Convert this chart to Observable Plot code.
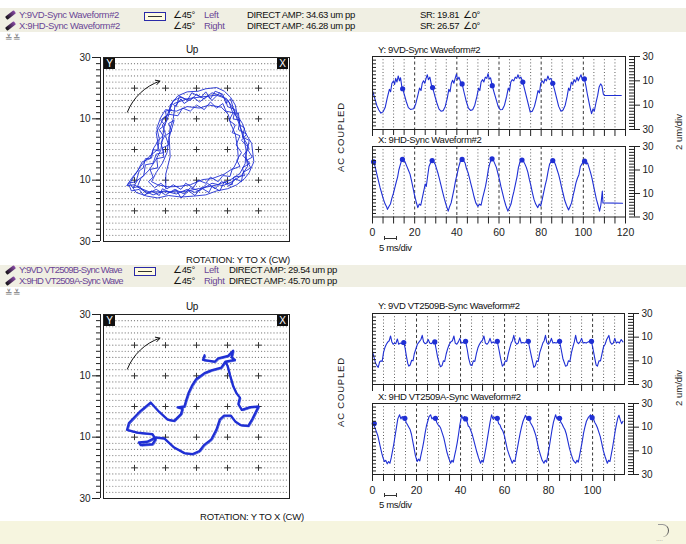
<!DOCTYPE html>
<html><head><meta charset="utf-8">
<script src="https://cdn.jsdelivr.net/npm/d3@7"></script>
<script src="https://cdn.jsdelivr.net/npm/@observablehq/plot@0.6"></script>
<style>
body{margin:0;background:#fff;font-family:"Liberation Sans",Arial,sans-serif;}
#root{position:relative;width:686px;height:544px;overflow:hidden;background:#fff;}
.a{position:absolute;white-space:nowrap;line-height:10px;font-size:9.5px;letter-spacing:-0.35px;color:#111;}
.band{position:absolute;left:0;width:686px;background:#f0efe3;}
.nm{color:#6a4596;}
.pur{color:#6a4596;}
.ico{position:absolute;width:11px;height:4px;background:linear-gradient(90deg,#111,#8a4aa8);transform:rotate(-38deg);border-radius:1px;}
.box{position:absolute;width:20px;height:7px;border:1px solid #2a2aa8;background:#fffbe0;}
.box:after{content:"";position:absolute;left:3px;right:3px;top:3px;height:1px;background:#333;}
.tag{position:absolute;width:11px;height:11px;background:#111;color:#fff;font-size:10px;line-height:11px;text-align:center;}
.rot{position:absolute;transform:translate(-50%,-50%) rotate(-90deg);white-space:nowrap;font-size:9.5px;color:#222;}
svg{position:absolute;overflow:visible;}
</style></head>
<body><div id="root"></div>
<script>
// ---------------- data ----------------
const headerTop = ["Y:9VD-Sync Waveform#2", "X:9HD-Sync Waveform#2"];
const headerBottom = ["Y:9VD VT2509B-Sync Wave", "X:9HD VT2509A-Sync Wave"];
const titlesTop = ["Y: 9VD-Sync Waveform#2", "X: 9HD-Sync Waveform#2"];
const titlesBottom = ["Y: 9VD VT2509B-Sync Waveform#2", "X: 9HD VT2509A-Sync Waveform#2"];
const ampTop = ["34.63", "46.28"];
const ampBottom = ["29.54", "45.70"];
const srTop = ["19.81", "26.57"];
const sides = ["Left", "Right"];
const orbitTicks = [-30, -10, 10, 30];
const waveTicks = [-30, -10, 10, 30];
const timeLabelsTop = [0, 20, 40, 60, 80, 100, 120];
const timeLabelsBottom = [0, 20, 40, 60, 80, 100];

// top orbit: several overlapping revolutions (x, y in um)
const topOrbit = [
 [-7.2,15.0],[-2.8,16.6],[2.1,17.2],[6.4,17.7],[9.7,16.6],[11.8,13.4],[13.5,9.0],[15.1,4.7],[16.0,-0.2],[15.7,-4.6],[14.0,-7.8],[10.8,-10.0],[6.4,-11.6],[1.0,-12.7],[-4.5,-13.8],[-9.9,-13.8],[-15.3,-13.8],[-19.1,-12.2],[-18.0,-9.5],[-15.3,-6.7],[-13.2,-3.5],[-11.5,-0.2],[-11.0,3.6],[-10.4,7.4],[-8.8,11.7],
 [-8.5,14.5],[-6,17.5],[-3,18.8],[0.5,19],[3,19.8],[6.5,20.2],[9,19],[11,17],[12.5,14.5],[13.2,11],[14.8,8.5],[16,5],[17.8,2],[18.2,-1.5],[18.5,-4],[17,-7.5],[15.5,-9.5],[13,-11.5],[10,-12.8],[6.5,-13.5],[3,-14.8],[-1,-15.2],[-5,-15.5],[-9,-15],[-12.5,-15.8],[-16,-15.2],[-19.5,-14],[-21.5,-11],[-20,-8.5],[-18,-5.5],[-15.5,-2.5],[-12.5,0],[-12,3.5],[-12.8,7],[-11.5,10.5],[-10,13],
 [-6.5,12.5],[-3,14],[1,13.5],[4,14.5],[8,13.8],[10.2,11.5],[11,8.5],[12.5,5],[13.2,1],[13.5,-3],[12,-6],[9,-8],[5,-9.5],[2,-9.8],[-2,-11.5],[-5.5,-12],[-9,-12.2],[-12.5,-11.5],[-14.5,-10.5],[-13,-7.5],[-11,-4.5],[-9.5,-1],[-9,3],[-8.5,7],[-7.5,10],
 [-7,14],[-5,16.5],[-4,15],[-1,17],[1,15.5],[3.5,17.5],[5,16],[7.5,18.5],[9.5,16],[10,14],[12.5,13],[11.8,10],[14,9.5],[13.5,6.5],[16.2,5],[14.5,3],[17,0.5],[15,-2],[17.2,-4.5],[14.8,-6],[15.5,-8.5],[12,-9],[11.5,-11.5],[8,-10.5],[6,-12.8],[3.5,-11],[1,-13.5],[-2,-12.5],[-4,-14.5],[-7,-13],[-10,-14.8],[-13,-13],[-16,-14.5],[-18.5,-12],[-20.5,-12.5],[-19,-10],[-17,-8.5],[-16.5,-5],[-14,-4.5],[-13,-1.5],[-10.5,-1],[-11.5,2],[-10,5],[-11,8],[-9.5,9.5],[-10,12.5],[-8,13],
 [-9,12],[-7.5,16],[-5,17],[-2,16],[0,18],[2.5,16.5],[5,18.5],[8,17.5],[10.5,15.5],[11.5,12.5],[13.5,10],[14.2,7],[15,4],[16.5,1.5],[16,-2],[16.5,-5.5],[14.5,-8.5],[11.5,-10.5],[8.5,-11.8],[5,-11],[2.5,-12.5],[-0.5,-14],[-3,-13],[-6.5,-14.5],[-10.5,-13.5],[-14,-14.8],[-17.5,-13.2],[-20,-11.5],[-22.5,-11.8],[-21,-9.5],[-19,-7],[-17.5,-4],[-15,-3],[-13.8,0.5],[-12.5,2.5],[-13,5.5],[-11.5,8.5],[-10.5,10.5],
 [-9.5,11],[-8,15],[-6.5,14],[-5.5,17.5],[-3,16],[-1.5,18.5],[1.5,17],[3,18.8],[4.5,16.5],[6,19],[8.5,18],[9.5,15],[11,16.5],[12,13],[12.8,11.5],[13.5,12],[14,8],[15.5,7],[14.8,4],[17,3],[16.5,0],[18,-2.5],[16.2,-3.5],[17.5,-6],[15,-7.5],[14.5,-10.5],[12.5,-9.5],[10.5,-12],[9,-10.5],[7.5,-13.5],[5,-12],[4,-14],[1.5,-12.5],[-0.5,-15],[-2.5,-13.5],[-5,-15.8],[-6.5,-13.2],[-8.5,-14],[-11,-12.8],[-12,-15],[-14.5,-13.5],[-17,-15],[-18.5,-13],[-21,-13.5],[-22,-11],[-19.5,-10.5],[-18.5,-7],[-17.2,-6],[-16.5,-3],[-14.5,-2.8],[-14,0],[-12,-0.5],[-12.8,2.5],[-10.8,4.5],[-12,6.5],[-10.2,8],[-11.5,9.5],[-9,11.5],
 [-6,11],[-4.5,13.5],[-2,12.5],[0,14.5],[2.5,13],[4.5,15.5],[6.5,13.5],[8.5,15],[9.5,12.5],[11.8,12],[10.5,9.5],[12.5,8],[11.5,5.5],[14,4.5],[12.8,1.5],[14.5,-1],[13,-3.5],[14,-5.5],[11.5,-6.5],[10.8,-8.8],[8.5,-8.5],[7,-10.5],[4.5,-9],[3,-11],[0.5,-10],[-1,-12.5],[-3.5,-11],[-5,-13],[-7.5,-11.5],[-9.5,-12.8],[-11.5,-11],[-13.5,-12.5],[-15.5,-10.5],[-14,-9],[-15,-6.5],[-12.5,-6],[-12.8,-3],[-10.5,-2.5],[-11,0.5],[-9,1.5],[-10,4.5],[-8,6],[-9,8.5],[-7.2,9.5],[-8.8,4],[-8.5,-2.4],[-9.9,-8],[-9.9,-12.7]
];

// bottom orbit (x, y in um)
const bottomOrbit = [
 [2.6,16.7],[2.1,15.2],[5.9,14.6],[7,15.7],[10.2,16.5],[11.8,18.2],[11.3,16],[12.4,15.2],[9.3,14.6],
 [8.0,12.7],[4.8,11.8],[2.6,10.9],[-0.1,8.9],[-1.5,6.7],[-2.5,4.6],[-3.4,1.8],[-3.9,0],[-6.1,-0.3],[-4.5,-0.7],[-5.0,-2.5],[-7.2,-4.7],[-9.3,-4.3],[-12.1,-1.7],[-14.8,1.3],[-18.0,-1.4],[-21.8,-5.4],[-22.4,-7.6],[-19.1,-8.5],[-14.2,-9.0],[-13.2,-10.7],[-14.2,-12.3],[-18.0,-12.6],[-18.6,-11.7],[-15.9,-11.5],[-13.2,-10.1],[-10.4,-10.4],[-7.2,-13.4],[-3.9,-15.2],[-1.2,-15.5],[1.0,-14.5],[2.4,-12.6],[4.8,-10.7],[6.4,-7.6],[7.5,-4.3],[8.9,-3.0],[11.1,-3.0],[12.6,-5.0],[14.3,-6.1],[16.7,-6.3],[18.0,-4.1],[20.0,0],[17.3,-0.2],[14.6,-1.1],[13.5,0.8],[14.0,2.9],[12.9,4.3],[11.8,6.7],[10.8,10.2],[10.0,13.3],[9.3,14.6]
];

// direction arrow on both orbits [x1, y1, x2, y2]
const rotationArrow = [[-22.3, 12.2, -11.8, 22.3]];

// waveforms: [time ms, amplitude um]
const topYWave = [[0,2],[1,-4],[2,-10],[3,-14],[4,-16.5],[5,-15.5],[6,-12],[7,-4],[8,3],[8.6,1],[9.2,8],[10,10],[10.5,7],[11,12],[11.6,9],[12.2,14],[12.8,10],[13.3,12.5],[14,4],[14.4,3],[15.2,-2],[16,-7],[17,-12],[18,-13.5],[19.5,-13],[20.5,-9],[21.5,-2],[22.3,4],[23,2],[23.6,8],[24.2,10],[24.8,8],[25.4,12],[26,15],[26.5,11],[27.2,13],[28,6],[28.6,4],[29.5,-2],[30.5,-8],[31.5,-13],[32.5,-15],[33.5,-14.5],[34.5,-11],[35.5,-4],[36.2,3],[36.8,1],[37.4,8],[38,10.5],[38.6,8],[39.2,12],[39.8,15.5],[40.4,11],[41,13],[41.8,9],[42.5,7.5],[43.5,0],[44.5,-7],[45.5,-12.5],[46.5,-14.3],[47.5,-13.8],[48.5,-10],[49.5,-3],[50.3,4],[50.9,2],[51.5,9],[52.2,11],[52.8,9],[53.5,13],[54.2,12],[54.8,16],[55.4,11.5],[56,12.5],[56.8,6],[57.6,1],[58.6,-5],[59.6,-11],[60.6,-13.8],[61.6,-13.5],[62.6,-10],[63.6,-3],[64.4,4],[65,2],[65.6,9],[66.3,11],[67,10],[67.7,13],[68.4,12],[69,15],[69.6,12],[70.4,13],[71.3,9],[72,4],[73,-3],[74,-10],[74.8,-15.7],[75.8,-15],[76.8,-11],[77.8,-4],[78.5,2],[79.2,0],[79.8,8],[80.5,10],[81.2,8],[81.8,11.5],[82.5,10],[83.2,14],[83.8,11],[84.6,12],[85.5,8],[86.3,3],[87.3,-4],[88.3,-11],[89.4,-15],[90.4,-14],[91.4,-10],[92.3,-3],[93,4],[93.6,2],[94.3,9],[95,7],[95.6,11],[96.3,9],[97,13],[97.6,10],[98.2,12.5],[98.9,15],[99.5,11],[100.5,11.6],[101.2,6],[101.8,0],[102.5,-6],[103.2,-12],[103.9,-17],[104.6,-13],[105.2,-15],[106,-8],[106.8,-2],[107.5,5],[108.2,7.5],[108.8,6],[109.5,-1],[110,-2],[118,-2]];
const topYDots = [[14.3,3.5],[28.5,4.5],[42.5,7.5],[56.8,6],[71.3,9],[85.5,8],[100.5,11.6]];

const topXWave = [[0,15],[0.6,17],[1.2,13],[2,7],[2.8,1],[3.6,-5],[4.4,-10],[5.2,-15],[6,-19],[6.6,-21],[7.1,-23.5],[7.8,-21],[8.5,-19],[9.2,-14],[9.9,-10],[10.6,-5],[11.3,0],[11.9,4],[12.5,10],[13.1,14],[13.7,17.5],[14.2,19.5],[14.8,18],[15.4,17],[16.2,13.5],[17,10],[17.8,6.5],[18.5,1],[19.2,-5],[20,-12],[20.7,-17],[21.5,-22],[22.2,-19],[22.9,-20],[23.6,-14],[24.3,-8],[25,-2],[25.5,-4],[26.1,4],[26.8,13],[27.5,16],[28.3,18.5],[29,17],[29.7,15],[30.4,11],[31.1,7],[31.8,2],[32.5,-3],[33.3,-9],[34,-14],[34.8,-19],[35.9,-25],[36.6,-21],[37.3,-18],[38,-12],[38.7,-6],[39.4,1],[40.1,6],[40.8,12],[41.6,17],[42.5,19.5],[43.2,18],[43.9,16],[44.6,11],[45.3,8],[46,3],[46.7,-2],[47.4,-7],[48.2,-13],[49,-18],[50,-21],[50.8,-19],[51.5,-20],[52.2,-14],[52.9,-9],[53.6,-4],[54.3,3],[55,11],[55.7,16],[56.7,20],[57.4,18],[58.1,15],[58.8,12],[59.5,7],[60.2,2],[60.9,-4],[61.6,-9],[62.4,-15],[63.2,-20],[64.2,-25],[65,-22],[65.7,-19],[66.4,-13],[67.1,-8],[67.8,-2],[68.5,4],[69.2,12],[70,17],[70.9,19],[71.6,17.5],[72.3,15],[73,12],[73.7,8],[74.4,2],[75.1,-3],[75.8,-9],[76.6,-15],[77.4,-19],[78.4,-22],[79.1,-19],[79.8,-20.5],[80.5,-15],[81.2,-9],[81.9,-3],[82.6,2],[83.3,9],[84,15],[84.7,17],[85.5,18.5],[86.2,17],[86.9,14],[87.6,10],[88.3,6],[89,1],[89.7,-5],[90.4,-10],[91.2,-16],[92,-20],[93,-24],[93.7,-21],[94.4,-18],[95.1,-12],[95.8,-7],[96.5,-1],[97.2,3],[97.9,6],[98.6,13],[99.3,15],[100,17],[100.6,18],[101.3,15],[102,16],[102.7,12],[103.4,8],[104.1,3],[104.8,-3],[105.5,-9],[106.2,-15],[107,-20],[107.7,-25],[108.3,-20],[109,-8],[109.3,-18],[118.6,-18.3]];
const topXDots = [[0.5,17],[14.2,19],[28.3,18],[42.5,19],[56.7,19.5],[70.9,18.5],[85.5,18],[100.6,17.5]];

const bottomYWave = [[0,-2],[0.7,-7],[1.4,-12],[2,-14],[2.6,-15.5],[3.2,-11],[3.8,-10],[4.4,-10.5],[5,-3],[5.6,1],[6.3,4],[7,6],[7.6,7],[8.2,11],[8.8,6],[9.4,4],[10,5],[10.6,4.5],[11.3,8.5],[11.9,4],[12.6,5],[13.3,4.5],[14.2,5.5],[14.8,1],[15.4,-6],[16,-12],[16.5,-14.5],[17.1,-13.5],[17.8,-9.5],[18.4,-10],[19,-4],[19.7,0],[20.4,4],[21.2,6],[22,8],[22.6,11.5],[23.2,6],[23.9,4.5],[24.6,5],[25.3,8],[26,5],[26.7,4.5],[27.5,6],[28.3,6],[28.9,0],[29.6,-7],[30.3,-12],[30.9,-15],[31.6,-14],[32.2,-10],[32.8,-10.5],[33.5,-4],[34.2,0.5],[34.9,4],[35.6,6],[36.3,7],[37,11],[37.6,5],[38.3,4],[39,6],[39.7,9],[40.4,5],[41.1,5.5],[41.7,5],[42.3,6.5],[43,0],[43.7,-8],[44.5,-13.5],[45.2,-14],[45.8,-10],[46.5,-10.5],[47.2,-4],[47.9,1],[48.6,4],[49.3,6],[50,7.5],[50.6,11],[51.3,5],[52,4],[52.7,5.5],[53.4,9],[54.1,5],[54.8,6],[55.5,5],[56.2,5.5],[56.7,6.5],[57.4,0],[58.2,-8],[59,-14.5],[59.7,-13],[60.3,-10],[61,-10.5],[61.7,-4],[62.4,1],[63,5],[63.6,7],[64.2,11.5],[64.8,6],[65.5,4],[66.2,5],[66.9,9.5],[67.6,5],[68.3,5.5],[69,5],[69.8,6],[70.8,6.5],[71.5,0],[72.3,-7],[73.3,-15.5],[74,-14],[74.6,-10],[75.3,-10.5],[76,-3],[76.7,1],[77.4,5],[78,7],[78.6,11.5],[79.2,5.5],[79.9,4],[80.6,5.5],[81.3,9],[82,5],[82.7,5.5],[83.4,5],[84.2,6],[85,6.5],[85.7,0],[86.5,-8],[87.7,-14.5],[88.4,-14],[89,-10],[89.7,-10.5],[90.4,-3],[91.1,2],[91.7,6],[92.3,11.5],[92.9,6],[93.6,4.5],[94.3,6],[95,9],[95.7,5],[96.4,5.5],[97.1,5],[98,6],[99.5,6.5],[100.2,0],[101,-8],[101.6,-13.5],[102.2,-14.5],[102.9,-10],[103.6,-10],[104.3,-4],[105,2],[105.7,4],[106.4,8],[107.4,11.5],[108,6],[108.7,4],[109.4,5],[110.1,9],[110.8,5],[111.5,6],[112.2,5],[113,8],[113.8,6]];
const bottomYDots = [[14.2,5.5],[28.3,6],[42.3,6.5],[56.7,6.5],[70.8,6.5],[85,6.5],[99.5,6.5]];

const bottomXWave = [[0,14],[0.6,12],[1.2,9],[1.8,6],[2.4,3],[3,-2],[3.6,-7],[4.2,-12],[4.8,-16],[5.4,-19],[6,-18],[6.7,-21],[7.3,-19],[7.9,-20.5],[8.5,-16],[9.1,-10],[9.7,-4],[10.3,3],[10.9,10],[11.5,17],[12.3,20.5],[12.9,17],[13.5,19],[14.1,17.5],[14.7,17.5],[15.3,14],[15.9,12],[16.5,10],[17.1,8],[17.7,4],[18.3,-2],[18.9,-8],[19.5,-14],[20.3,-19],[20.9,-17],[21.5,-18.5],[22.1,-13],[22.7,-8],[23.3,-2],[23.9,5],[24.5,11],[25.1,15],[25.7,19],[26.4,20.5],[27,17],[27.6,18],[28.1,17],[28.6,17.5],[29.2,14],[29.8,12],[30.4,11],[31,9],[31.7,5],[32.4,1],[33.1,-5],[33.8,-11],[34.6,-16],[35.5,-20.5],[36.1,-18],[36.7,-19.5],[37.3,-14],[37.9,-9],[38.5,-3],[39.1,4],[39.7,12],[40.5,20],[41.1,17],[41.7,19],[42.3,17],[42.9,15],[43.5,11],[44.1,10],[44.7,7],[45.3,4],[46,-1],[46.7,-6],[47.4,-11],[48.2,-16],[49.1,-20.5],[49.7,-18],[50.3,-19.5],[50.9,-14],[51.5,-8],[52.1,-1],[52.7,6],[53.4,14],[54.1,20.5],[54.7,17],[55.3,18.5],[56,16.5],[56.7,17.5],[57.3,13],[57.9,12],[58.5,9],[59.2,7],[59.9,3],[60.6,-3],[61.3,-9],[62.2,-14],[63,-18],[63.5,-20.5],[64.1,-18],[64.7,-19],[65.3,-13],[65.9,-7],[66.5,-1],[67.1,5],[67.7,10],[68.4,15],[69.5,20],[70.1,17],[70.6,18.5],[71.1,17.5],[71.7,14],[72.3,12],[72.9,10],[73.5,7],[74.2,3],[74.9,-3],[75.6,-9],[76.4,-14],[77.1,-18],[77.9,-20.5],[78.5,-18],[79.1,-19.5],[79.7,-13],[80.3,-7],[80.9,0],[81.5,7],[82.2,14],[83.2,20.5],[83.8,17],[84.4,19],[85,17.5],[85.6,14],[86.2,12.5],[86.8,10],[87.4,8],[88.1,4],[88.8,-2],[89.5,-8],[90.3,-13],[91.2,-18],[92.3,-20.5],[92.9,-18],[93.5,-19.5],[94.1,-14],[94.7,-8],[95.3,-2],[95.9,5],[96.5,10],[97.2,15],[98,18],[99.1,20.5],[99.8,18],[100.4,17],[101,14],[101.6,12],[102.2,9.5],[102.8,6],[103.5,2],[104.2,-4],[104.9,-10],[105.7,-15],[106.7,-20.5],[107.3,-18],[107.9,-19],[108.5,-13],[109.1,-7],[109.7,0],[110.3,7],[110.9,13],[111.5,18],[112,20],[112.6,16],[113.2,13],[113.8,15]];
const bottomXDots = [[0.8,13],[14.7,17.5],[28.6,17.5],[42.3,17],[56.7,17.5],[71.1,17.5],[85,17.5],[99.8,18]];

// ---------------- drawing ----------------
const root = document.getElementById("root");
const FONT = '"Liberation Sans", Arial, sans-serif';
const BLUE = "#1f2fd4";
function el(cls, html, css) {
  const d = document.createElement("div");
  d.className = cls; d.innerHTML = html;
  Object.assign(d.style, css || {});
  root.appendChild(d); return d;
}
function place(svg, left, top) {
  svg.style.left = left + "px"; svg.style.top = top + "px";
  root.appendChild(svg);
}

// header bands
el("band", "", {top: "8px", height: "24px"});
el("band", "", {top: "265px", height: "22px"});
el("band", "", {top: "521px", height: "23px", background: "#f6f5df"});

function header(y0, names, amps, boxLeft, angLeft, sideLeft, ampLeft, srs, nameSpacing) {
  names.forEach((n, i) => {
    const y = y0 + i * 11;
    el("ico", "", {left: "5px", top: (y + 3) + "px"});
    el("a nm", n, {left: "19px", top: y + "px", letterSpacing: nameSpacing});
    el("a", "∠45°", {left: angLeft + "px", top: y + "px"});
    el("a pur", sides[i], {left: sideLeft + "px", top: y + "px"});
    el("a", "DIRECT AMP: " + amps[i] + " um pp", {left: ampLeft + "px", top: y + "px"});
    if (srs) {
      el("a", "SR: " + srs[i], {left: "420px", top: y + "px"});
      el("a", "∠0°", {left: "463px", top: y + "px"});
    }
  });
  el("box", "", {left: boxLeft + "px", top: (y0 + 2) + "px"});
  el("a", "≚≚", {left: "5px", top: (y0 + 23) + "px", color: "#777", fontSize: "9px"});
}
header(10, headerTop, ampTop, 144, 173, 204, 247, srTop, "-0.35px");
header(265, headerBottom, ampBottom, 134, 173, 204, 229, null, "-0.75px");

// orbit plots
function orbitPlot(data, thick) {
  const grid = [];
  for (let gy = -28; gy <= 28; gy += 2) for (let gx = -29; gx <= 29; gx += 1) grid.push([gx, gy]);
  const crosses = [];
  for (const a of [-20, -10, 0, 10, 20]) for (const b of [-20, -10, 0, 10, 20]) crosses.push([a, b]);
  const marks = [
    Plot.dot(grid, {r: 0.6, fill: "#7a7a7a", stroke: null}),
    Plot.dot(crosses, {symbol: "plus", r: 2.1, stroke: "#333", strokeWidth: 1}),
  ];
  if (thick) {
    marks.push(Plot.line(data, {stroke: "#6070e0", strokeWidth: 1, dx: 1, dy: 1}));
    marks.push(Plot.line(data, {stroke: BLUE, strokeWidth: 2.3, strokeLinejoin: "round"}));
  } else {
    marks.push(Plot.line(data, {stroke: BLUE, strokeWidth: 0.9}));
  }
  marks.push(
    Plot.arrow(rotationArrow, {x1: d => d[0], y1: d => d[1], x2: d => d[2], y2: d => d[3], bend: 25, headLength: 7, stroke: "#111", strokeWidth: 1}),
    Plot.frame({stroke: "#222"}),
    Plot.ruleX([-30], {dx: -3, stroke: "#222"}),
    Plot.axisY({ticks: d3.range(-30, 31, 2), tickSize: 4, tickFormat: () => "", dx: -3, label: null}),
    Plot.axisY({ticks: orbitTicks, tickSize: 8, tickPadding: 2, tickFormat: d => Math.abs(d), dx: -3, label: null, fontSize: 10})
  );
  return Plot.plot({
    width: 240, height: 215, marginLeft: 43, marginTop: 17, marginRight: 11, marginBottom: 14,
    x: {domain: [-30, 30], axis: null},
    y: {domain: [-30, 30]},
    style: {fontFamily: FONT, fontSize: "10px", background: "transparent", color: "#222"},
    marks
  });
}
place(orbitPlot(topOrbit, false), 60, 40);
place(orbitPlot(bottomOrbit, true), 60, 297);

// orbit texts
for (const top of [40, 297]) {
  el("a", "Up", {left: "186px", top: (top + 5) + "px", fontSize: "10px"});
  el("tag", "Y", {left: "104px", top: (top + 18) + "px"});
  el("tag", "X", {left: "277px", top: (top + 18) + "px"});
}
el("a", "ROTATION: Y TO X (CW)", {left: "186px", top: "255px", letterSpacing: "-0.2px"});
el("a", "ROTATION: Y TO X (CW)", {left: "200px", top: "512px", letterSpacing: "-0.2px"});

// waveform panels
function wavePlot(data, dots, xmax, plotW, plotH, withLabels, labels) {
  const minor = d3.range(5, xmax, 5).filter(t => t % 20 !== 0);
  const major = d3.range(20, xmax, 20);
  const marks = [
    Plot.ruleX(minor, {stroke: "#333", strokeDasharray: "1,2.2", strokeWidth: 0.8}),
    Plot.ruleX(major, {stroke: "#222", strokeDasharray: "3,2.5", strokeWidth: 0.9}),
    Plot.line(data, {stroke: BLUE, strokeWidth: 1.1}),
    Plot.dot(dots, {r: 2.6, fill: BLUE, stroke: null}),
    Plot.frame({stroke: "#222"}),
    Plot.axisY({anchor: "left", ticks: d3.range(-27, 28, 3), tickSize: 4, dx: 4, tickFormat: () => "", label: null}),
    Plot.axisY({anchor: "right", ticks: d3.range(-30, 31, 2.5), tickSize: 6, dx: 3, tickFormat: () => "", label: null}),
    Plot.ruleX([xmax], {dx: 9, stroke: "#222"}),
    Plot.axisY({anchor: "right", ticks: waveTicks, tickSize: 5, dx: 9, tickPadding: 3, tickFormat: d => Math.abs(d), label: null, fontSize: 10}),
    Plot.axisX({ticks: d3.range(0, xmax + 0.1, 5), tickSize: 7, tickFormat: () => "", label: null}),
  ];
  if (withLabels) marks.push(Plot.axisX({ticks: labels, tickSize: 0, tickPadding: 12, tickFormat: d => d, label: null, fontSize: 10.5}));
  return Plot.plot({
    width: 17 + plotW + 61, height: 16 + plotH + (withLabels ? 26 : 10),
    marginLeft: 17, marginRight: 61, marginTop: 16, marginBottom: withLabels ? 26 : 10,
    x: {domain: [0, xmax]},
    y: {domain: [-30, 30]},
    style: {fontFamily: FONT, fontSize: "10px", background: "transparent", color: "#222"},
    marks
  });
}
place(wavePlot(topYWave, topYDots, 120, 253, 73, false), 355, 40);
place(wavePlot(topXWave, topXDots, 120, 253, 70.5, true, timeLabelsTop), 355, 130);
place(wavePlot(bottomYWave, bottomYDots, 114.5, 252, 71, false), 355, 297);
place(wavePlot(bottomXWave, bottomXDots, 114.5, 252, 71, true, timeLabelsBottom), 355, 387);

// waveform titles
el("a", titlesTop[0], {left: "378px", top: "45px"});
el("a", titlesTop[1], {left: "378px", top: "135px", background: "#fff"});
el("a", titlesBottom[0], {left: "378px", top: "301px"});
el("a", titlesBottom[1], {left: "378px", top: "391.5px", background: "#fff"});

// time scale bars
for (const [barTop, txtTop] of [[238, 243], [495, 500]]) {
  el("", "", {position: "absolute", left: "384px", top: (barTop - 2) + "px", width: "11px", height: "4px",
    borderLeft: "1px solid #333", borderRight: "1px solid #333"});
  el("", "", {position: "absolute", left: "384px", top: barTop + "px", width: "12px", height: "1px", background: "#333"});
  el("a", "5 ms/div", {left: "379px", top: txtTop + "px"});
}

// rotated side labels
el("rot", "AC COUPLED", {left: "340px", top: "137px", letterSpacing: "0.8px"});
el("rot", "AC COUPLED", {left: "340px", top: "392px", letterSpacing: "0.8px"});
el("rot", "2 um/div", {left: "678px", top: "132px"});
el("rot", "2 um/div", {left: "678px", top: "388px"});

// small logo bottom right
el("", "", {position: "absolute", left: "658px", top: "524px", width: "10px", height: "12px",
  borderRight: "1px solid #555", borderTop: "1px solid #999", borderRadius: "0 8px 8px 0"});
el("a", "····", {left: "656px", top: "535px", fontSize: "6px", color: "#777"});
</script>
</body></html>
